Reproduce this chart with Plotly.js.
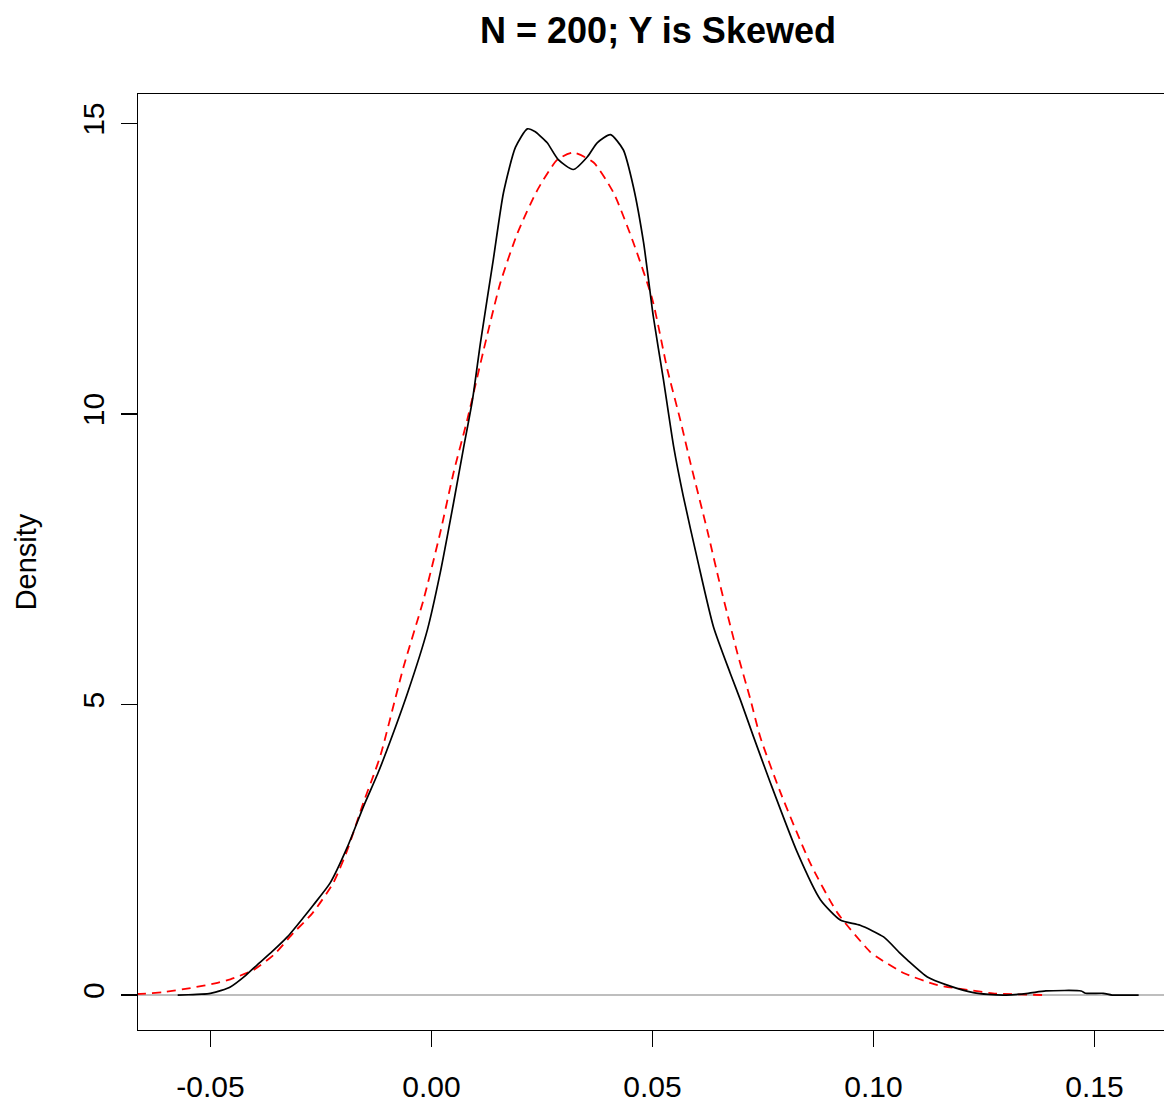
<!DOCTYPE html>
<html>
<head>
<meta charset="utf-8">
<script src="https://cdn.plot.ly/plotly-3.0.1.min.js"></script>
<style>
html, body { margin: 0; padding: 0; overflow: hidden; background: #fff; }
#chart { width: 1190px; height: 1103px; }
</style>
</head>
<body>
<div id="chart"></div>
<script>
// Kernel density of Y (black, solid)
const densX = [-0.0574, -0.055, -0.052, -0.050, -0.0475, -0.0455, -0.042, -0.0394, -0.036, -0.0326,
  -0.029, -0.0267, -0.0229, -0.019, -0.0154, -0.0122, -0.0109, -0.0054, -0.0009, 0.002,
  0.005, 0.0072, 0.0093, 0.0111, 0.014, 0.0163, 0.019, 0.0217, 0.0235, 0.0247,
  0.0262, 0.0287, 0.0321, 0.0353, 0.0375, 0.0405, 0.0434, 0.0457, 0.048, 0.0502,
  0.0525, 0.0548, 0.057, 0.0602, 0.0638, 0.0676, 0.0699, 0.0729, 0.0767, 0.0828,
  0.088, 0.0925, 0.097, 0.1023, 0.106, 0.1077, 0.1122, 0.1167, 0.1226, 0.126,
  0.130, 0.135, 0.139, 0.147, 0.148, 0.152, 0.154, 0.160];
const densY = [0, 0.005, 0.015, 0.03, 0.08, 0.14, 0.34, 0.52, 0.75, 1.0,
  1.33, 1.55, 1.93, 2.55, 3.24, 3.80, 4.05, 5.2, 6.29, 7.27,
  8.47, 9.39, 10.25, 11.23, 12.66, 13.81, 14.59, 14.91, 14.86, 14.78,
  14.67, 14.38, 14.21, 14.43, 14.67, 14.81, 14.55, 13.91, 12.95, 11.68,
  10.59, 9.44, 8.58, 7.49, 6.34, 5.54, 5.08, 4.44, 3.65, 2.45,
  1.64, 1.29, 1.2, 1.0, 0.72, 0.60, 0.31, 0.17, 0.04, 0.01,
  0.0, 0.03, 0.07, 0.07, 0.03, 0.03, 0.0, 0.0];

// Normal reference density (red, dashed)
const normX = [-0.070, -0.0658, -0.0606, -0.0545, -0.0484, -0.0455, -0.0403, -0.0357, -0.0312, -0.0269,
  -0.0222, -0.019, -0.0154, -0.0131, -0.0115, -0.0063, -0.0018, 0.002, 0.005, 0.0081,
  0.0118, 0.0156, 0.0195, 0.024, 0.0285, 0.0321, 0.0367, 0.0412, 0.0457, 0.05,
  0.0534, 0.0563, 0.0586, 0.0624, 0.0654, 0.0692, 0.0722, 0.0744, 0.079, 0.0857,
  0.0919, 0.0993, 0.1009, 0.1068, 0.1145, 0.1213, 0.127, 0.1385];
const normY = [0.01, 0.02, 0.05, 0.12, 0.21, 0.27, 0.43, 0.69, 1.07, 1.41,
  1.93, 2.50, 3.31, 3.78, 4.13, 5.65, 6.8, 7.96, 8.99, 9.90,
  11.1, 12.26, 13.12, 13.86, 14.38, 14.5, 14.33, 13.81, 12.95, 11.97,
  10.76, 9.9, 9.16, 8.0, 7.03, 5.89, 5.08, 4.44, 3.48, 2.27,
  1.41, 0.74, 0.65, 0.38, 0.17, 0.09, 0.03, 0.0];

const xTicks = [-0.05, 0.00, 0.05, 0.10, 0.15];
const xTickText = ["-0.05", "0.00", "0.05", "0.10", "0.15"];
const yTicks = [0, 5, 10, 15];
const yTickText = ["0", "5", "10", "15"];

const FONT = "Liberation Sans, Arial, Helvetica, sans-serif";

const traces = [
  {
    x: normX, y: normY, type: "scatter", mode: "lines",
    line: { color: "#ff0000", width: 1.8, dash: "9px,6px", shape: "spline", smoothing: 0.6 },
    hoverinfo: "skip"
  },
  {
    x: densX, y: densY, type: "scatter", mode: "lines",
    line: { color: "#000000", width: 1.7, shape: "spline", smoothing: 0.6 },
    hoverinfo: "skip"
  }
];

const layout = {
  width: 1190, height: 1103,
  margin: { l: 138, r: 12, t: 94, b: 73 },
  paper_bgcolor: "#ffffff", plot_bgcolor: "#ffffff",
  showlegend: false,
  font: { family: FONT, size: 30, color: "#000" },
  title: {
    text: "N = 200; Y is Skewed",
    font: { family: FONT, size: 36, color: "#000", weight: "bold" },
    x: 0.5, xref: "paper", xanchor: "center",
    y: 1 - 30 / 1103, yref: "container", yanchor: "middle"
  },
  xaxis: {
    range: [-0.06638, 0.1689],
    tickmode: "array", tickvals: xTicks, ticktext: xTickText,
    ticks: "outside", ticklen: 16, tickwidth: 1.3, tickcolor: "#000",
    ticklabelstandoff: 14,
    showline: true, linecolor: "#000", linewidth: 1.3, mirror: true,
    showgrid: false, zeroline: false,
    tickfont: { family: FONT, size: 30, color: "#000" }
  },
  yaxis: {
    range: [-0.602, 15.51],
    tickmode: "array", tickvals: yTicks, ticktext: yTickText,
    tickangle: -90,
    ticks: "outside", ticklen: 16, tickwidth: 1.3, tickcolor: "#000",
    ticklabelstandoff: 5,
    showline: true, linecolor: "#000", linewidth: 1.3, mirror: true,
    showgrid: false,
    zeroline: true, zerolinecolor: "#bebebe", zerolinewidth: 1.2,
    tickfont: { family: FONT, size: 30, color: "#000" },
    title: { text: "Density", font: { family: FONT, size: 29, color: "#000" }, standoff: 31 }
  }
};

Plotly.newPlot("chart", traces, layout, { displayModeBar: false, staticPlot: true });
</script>
</body>
</html>
